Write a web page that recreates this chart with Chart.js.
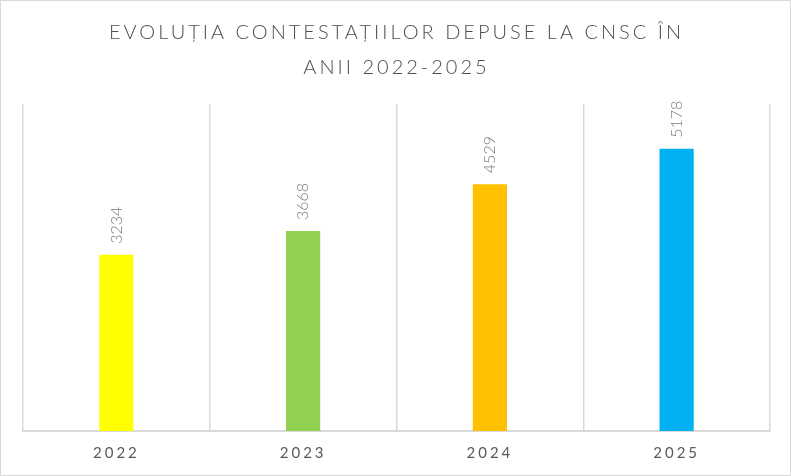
<!DOCTYPE html>
<html><head><meta charset="utf-8">
<script src="https://cdn.jsdelivr.net/npm/chart.js@4"></script>
<style>
html,body{margin:0;padding:0;background:#fff;}
#wrap{width:791px;height:476px;box-sizing:border-box;border:1px solid #d9d9d9;position:relative;}
canvas{display:block;}
</style></head><body>
<div id="wrap"><canvas id="c" width="789" height="474"></canvas></div>
<script>
const categories = ['2022','2023','2024','2025'];
const values = [3234, 3668, 4529, 5178];
const barColors = ['#FFFF00','#92D050','#FFC000','#00B0F0'];
const titleLines = ['EVOLUȚIA CONTESTAȚIILOR DEPUSE LA CNSC ÎN','ANII 2022-2025'];

const spacingPlugin = {
  id:'spacing',
  beforeDraw(chart){ chart.ctx.letterSpacing = '3px'; }
};
const labelPlugin = {
  id:'vlabels',
  afterDatasetsDraw(chart){
    const ctx = chart.ctx;
    const meta = chart.getDatasetMeta(0);
    ctx.save();
    ctx.letterSpacing = '0px';
    ctx.font = '300 16px Lato, "Open Sans", sans-serif';
    ctx.fillStyle = '#7a7a7a';
    ctx.textAlign = 'left';
    ctx.textBaseline = 'middle';
    meta.data.forEach((el,i)=>{
      ctx.save();
      ctx.translate(el.x, el.y - 11);
      ctx.rotate(-Math.PI/2);
      ctx.fillText(String(values[i]), 0, 0);
      ctx.restore();
    });
    ctx.restore();
  }
};

new Chart(document.getElementById('c'), {
  type:'bar',
  data:{labels:categories, datasets:[{data:values, backgroundColor:barColors, barPercentage:0.183, categoryPercentage:1}]},
  options:{
    responsive:false, animation:false,
    layout:{padding:{left:22, right:20, top:0, bottom:0}},
    plugins:{
      legend:{display:false}, tooltip:{enabled:false},
      title:{display:true, text:titleLines, color:'#4d4d4d',
        font:{family:'Lato, "Open Sans", sans-serif', size:20, weight:300, lineHeight:1.75},
        padding:{top:14, bottom:19}}
    },
    scales:{
      x:{offset:true,
        grid:{display:true, offset:true, color:'#d9d9d9', lineWidth:1.5, drawTicks:false},
        border:{display:true, color:'#d9d9d9', width:2},
        ticks:{color:'#595959', padding:13, font:{family:'Lato, "Open Sans", sans-serif', size:15}}
      },
      y:{display:false, min:0, max:6000}
    }
  },
  plugins:[spacingPlugin, labelPlugin]
});
</script>
</body></html>
